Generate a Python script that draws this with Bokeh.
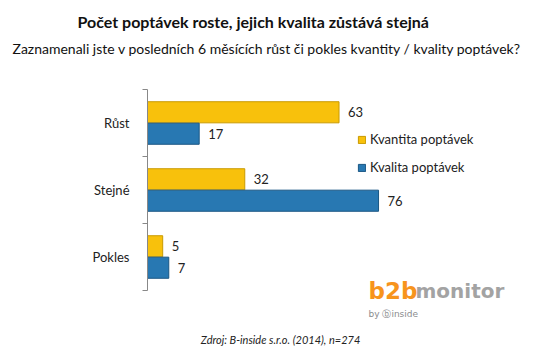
from bokeh.plotting import figure
from bokeh.models import Range1d, FixedTicker, Label, ColumnDataSource, Title
from bokeh.core.properties import value
from bokeh.embed import file_html
from bokeh.resources import INLINE

categories = ["Růst", "Stejné", "Pokles"]
kvantita = [63, 32, 5]
kvalita = [17, 76, 7]
series_names = ["Kvantita poptávek", "Kvalita poptávek"]
title_text = "Počet poptávek roste, jejich kvalita zůstává stejná"
subtitle_text = "Zaznamenali jste v posledních 6 měsících růst či pokles kvantity / kvality poptávek?"
source_text = "Zdroj: B-inside s.r.o. (2014), n=274"

FONT = "Lato"
n = len(categories)
centers = [n - i - 0.5 for i in range(n)]
off = 0.16
bar_h = 0.315

p = figure(width=560, height=358, output_backend="svg", toolbar_location=None,
           x_range=Range1d(0, 413 / 3.04), y_range=Range1d(-68 / 67, n + 29 / 67),
           min_border_left=147, min_border_right=0, min_border_top=60, min_border_bottom=0)
p.outline_line_color = None
p.background_fill_color = "white"
p.border_fill_color = "white"
p.xgrid.visible = False
p.ygrid.visible = False
p.xaxis.visible = False

yax = p.yaxis[0]
yax.bounds = (0, n)
yax.ticker = FixedTicker(ticks=centers, minor_ticks=list(range(n + 1)))
yax.major_label_overrides = {c: cat for c, cat in zip(centers, categories)}
yax.major_tick_out = 0
yax.major_tick_in = 0
yax.minor_tick_out = 5
yax.minor_tick_in = 0
yax.minor_tick_line_color = "#888888"
yax.axis_line_color = "#888888"
yax.major_label_standoff = 13
yax.major_label_text_font = FONT
yax.major_label_text_font_size = "13px"
yax.major_label_text_color = "#222222"

src_a = ColumnDataSource(dict(y=[c + off for c in centers], v=kvantita, t=[str(v) for v in kvantita]))
src_b = ColumnDataSource(dict(y=[c - off for c in centers], v=kvalita, t=[str(v) for v in kvalita]))

p.hbar(y="y", left=0, right="v", height=bar_h, source=src_a, fill_color="#F8C10C",
       line_color="#C99A00", line_width=1, legend_label=series_names[0])
p.hbar(y="y", left=0, right="v", height=bar_h, source=src_b, fill_color="#2878B2",
       line_color="#1A5784", line_width=1, legend_label=series_names[1])

for s in (src_a, src_b):
    p.text(x="v", y="y", text="t", source=s, x_offset=9, text_baseline="middle",
           text_font=value(FONT), text_font_size="13px", text_color="#222222")

lg = p.legend[0]
lg.location = (210, 181)
lg.background_fill_alpha = 0
lg.border_line_color = None
lg.padding = 0
lg.margin = 0
lg.spacing = 8
lg.label_height = 20
lg.glyph_width = 9
lg.glyph_height = 9
lg.label_standoff = 4
lg.label_text_font = FONT
lg.label_text_font_size = "13px"
lg.label_text_color = "#222222"

p.add_layout(Title(text=subtitle_text, align="left", offset=-135, text_font=FONT,
                   text_font_size="14px", text_font_style="normal", text_color="#111111",
                   standoff=7), "above")
p.add_layout(Title(text=title_text, align="left", offset=-70, text_font=FONT,
                   text_font_size="16px", text_font_style="bold", text_color="#111111",
                   standoff=8), "above")

def lab(x, y, text, size, style="normal", color="#111111", align="center", baseline="middle", font=FONT):
    p.add_layout(Label(x=x, y=y, x_units="screen", y_units="screen", text=text,
                       text_font=font, text_font_size=size, text_font_style=style,
                       text_color=color, text_align=align, text_baseline=baseline))

lab(133, 19, source_text, "11px", "italic", "#222222")
lab(221, 68, "b2b", "23px", "bold", "#F7941D", "left", "alphabetic", "DejaVu Sans")
lab(268, 68, "monitor", "20px", "bold", "#A3A3A3", "left", "alphabetic", "DejaVu Sans")
lab(221, 45, "by ⓑinside", "9px", "normal", "#8A8C8E", "left", "middle", "DejaVu Sans")

open("out.html", "w").write(file_html(p, INLINE))
